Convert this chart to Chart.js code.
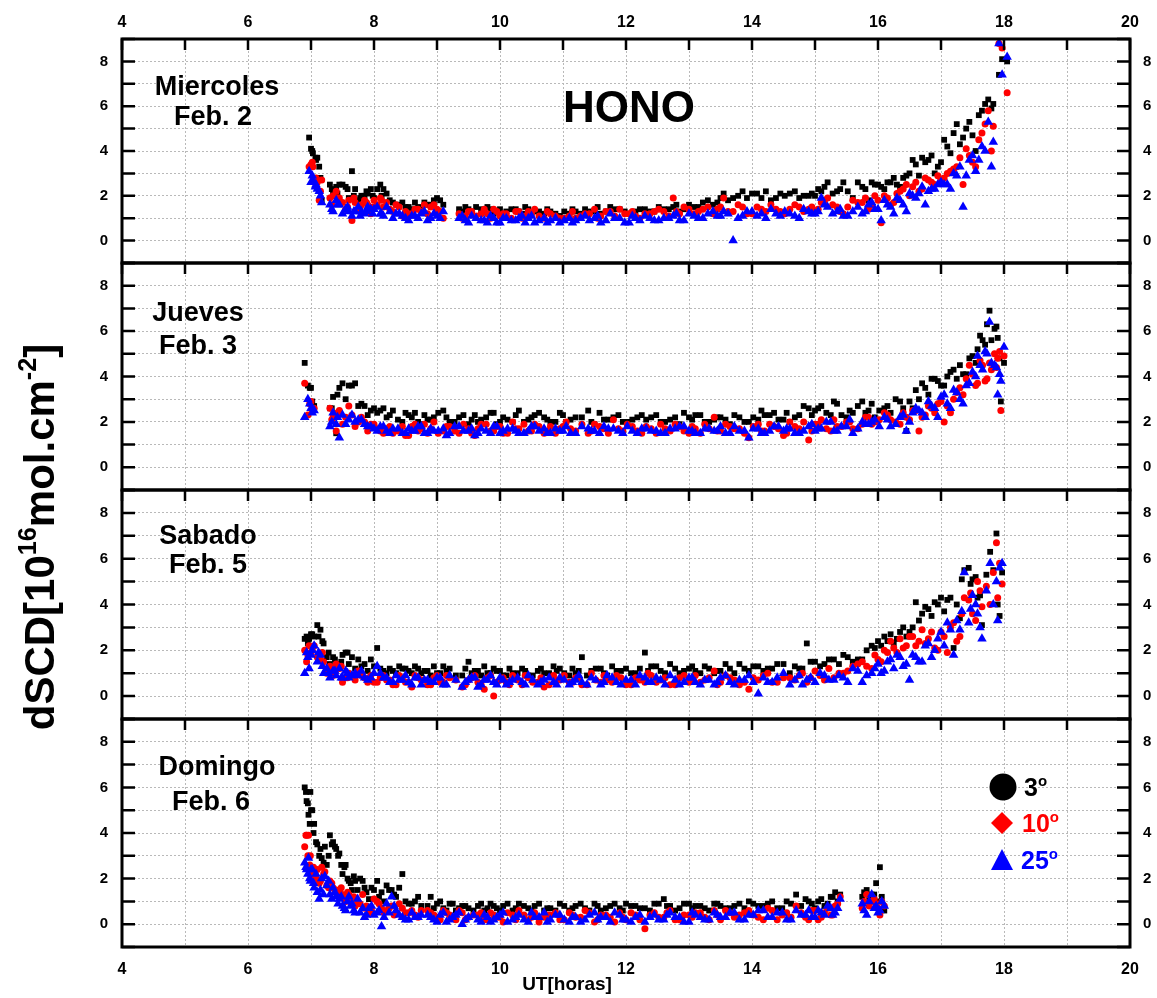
<!DOCTYPE html>
<html>
<head>
<meta charset="utf-8">
<script src="https://cdn.jsdelivr.net/npm/chart.js@4.4.1/dist/chart.umd.min.js"></script>
<style>
  body { margin: 0; background: #fff; }
  #page { position: relative; width: 1157px; height: 998px; overflow: hidden; font-family: "Liberation Sans", Arial, sans-serif; }
  #page canvas { position: absolute; left: 0; }
  .txt { position: absolute; font-weight: bold; white-space: nowrap; color: #000; z-index: 5; }
  .txt sup { font-size: 60%; vertical-align: 0.7em; line-height: 0; }
</style>
</head>
<body>
<div id="page">
  <canvas id="c1"></canvas>
  <canvas id="c2"></canvas>
  <canvas id="c3"></canvas>
  <canvas id="c4"></canvas>

  <div class="txt" style="left:-260px;top:512px;width:600px;height:50px;line-height:50px;text-align:center;font-size:42px;transform:rotate(-90deg);">dSCD[10<sup>16</sup>mol.cm<sup>-2</sup>]</div>
  <div class="txt" style="left:467px;top:974px;width:200px;text-align:center;font-size:19px;line-height:20px;">UT[horas]</div>
  <div class="txt" style="left:529px;top:85px;width:200px;text-align:center;font-size:44px;line-height:44px;">HONO</div>

  <div class="txt" style="left:117px;top:73px;width:200px;text-align:center;font-size:27px;line-height:27px;">Miercoles</div>
  <div class="txt" style="left:113px;top:103px;width:200px;text-align:center;font-size:27px;line-height:27px;">Feb. 2</div>
  <div class="txt" style="left:98px;top:299px;width:200px;text-align:center;font-size:27px;line-height:27px;">Jueves</div>
  <div class="txt" style="left:98px;top:332px;width:200px;text-align:center;font-size:27px;line-height:27px;">Feb. 3</div>
  <div class="txt" style="left:108px;top:522px;width:200px;text-align:center;font-size:27px;line-height:27px;">Sabado</div>
  <div class="txt" style="left:108px;top:551px;width:200px;text-align:center;font-size:27px;line-height:27px;">Feb. 5</div>
  <div class="txt" style="left:117px;top:753px;width:200px;text-align:center;font-size:27px;line-height:27px;">Domingo</div>
  <div class="txt" style="left:111px;top:788px;width:200px;text-align:center;font-size:27px;line-height:27px;">Feb. 6</div>

  <div class="txt" style="left:1024px;top:775px;font-size:25px;line-height:25px;">3<sup>o</sup></div>
  <div class="txt" style="left:1022px;top:811px;font-size:25px;line-height:25px;color:#ff0000;">10<sup>o</sup></div>
  <div class="txt" style="left:1021px;top:848px;font-size:25px;line-height:25px;color:#0000ff;">25<sup>o</sup></div>
</div>

<script>
// Miercoles Feb. 2 (first scan)
const feb2Time = [
  6.97, 7.0, 7.03, 7.07, 7.1, 7.13, 7.17, 7.3, 7.35, 7.4,
  7.45, 7.55, 7.6, 7.65, 7.7, 7.75, 7.8, 7.85, 7.9, 7.95,
  8.0, 8.1, 8.15, 8.2, 8.25, 8.35, 8.45, 8.5, 8.6, 8.7,
  8.8, 8.85, 8.95, 9.05, 9.1, 9.35, 9.45, 9.55, 9.7, 9.8,
  9.9, 10.0, 10.1, 10.25, 10.35, 10.45, 10.55, 10.7, 10.8, 10.95,
  11.1, 11.2, 11.35, 11.5, 11.6, 11.75, 11.9, 12.05, 12.15, 12.3,
  12.45, 12.6, 12.75, 12.85, 13.0, 13.15, 13.3, 13.45, 13.55, 13.7,
  13.85, 14.0, 14.15, 14.3, 14.45, 14.6, 14.75, 14.9, 15.0, 15.1,
  15.2, 15.35, 15.45, 15.6, 15.75, 15.85, 15.95, 16.05, 16.15, 16.25,
  16.35, 16.45, 16.55, 16.65, 16.75, 16.85, 16.95, 17.05, 17.15, 17.25,
  17.35, 17.45, 17.55, 17.65, 17.75, 17.83, 17.92, 17.97, 18.05
];
const feb2Deg3 = [
  4.6, 4.1, 3.9, 3.7, 3.7, 3.3, 1.8, 2.5, 2.2, 2.4,
  2.5, 2.4, 1.9, 3.1, 2.3, 1.8, 2.0, 2.0, 2.1, 2.3,
  1.9, 2.5, 2.3, 2.1, 1.8, 1.6, 1.7, 1.5, 1.4, 1.5,
  1.7, 1.6, 1.8, 1.8, 1.6, 1.4, 1.5, 1.3, 1.4, 1.5,
  1.2, 1.4, 1.3, 1.4, 1.2, 1.4, 1.3, 1.2, 1.3, 1.1,
  1.2, 1.3, 1.4, 1.3, 1.2, 1.5, 1.4, 1.2, 1.3, 1.4,
  1.3, 1.4, 1.5, 1.3, 1.6, 1.5, 1.8, 1.7, 2.1, 1.9,
  2.2, 2.1, 1.9, 1.8, 2.1, 2.1, 1.9, 2.0, 2.0, 2.2,
  2.6, 2.2, 2.6, 1.9, 2.4, 1.8, 2.5, 2.4, 2.6, 2.8,
  2.4, 2.9, 3.6, 2.9, 3.5, 3.8, 3.3, 4.5, 3.9, 5.2,
  4.6, 5.3, 4.0, 5.8, 6.3, 6.1, 7.4, 8.1, 8.0
];
const feb2Deg10 = [
  3.3, 3.4, 3.3, 2.7, 2.6, 1.8, 2.7, 1.9, 2.0, 2.2,
  1.9, 1.4, 1.8, 0.9, 1.7, 1.4, 1.6, 1.8, 1.6, 1.2,
  1.8, 1.9, 1.5, 1.7, 1.4, 1.6, 1.1, 1.3, 1.2, 1.4,
  1.6, 1.2, 1.6, 1.3, 1.0, 1.2, 1.1, 1.3, 1.2, 1.2,
  1.4, 1.1, 1.2, 1.3, 1.0, 1.3, 1.4, 1.0, 1.2, 1.0,
  1.1, 1.0, 1.2, 1.4, 1.1, 1.3, 1.4, 1.2, 1.1, 1.2,
  1.3, 1.3, 1.9, 1.2, 1.4, 1.3, 1.5, 1.4, 1.9, 1.3,
  1.5, 1.2, 1.4, 1.6, 1.3, 1.4, 1.5, 1.4, 1.3, 1.7,
  1.9, 1.5, 1.2, 1.8, 1.7, 1.4, 2.0, 0.8, 1.9, 1.7,
  2.2, 2.5, 2.4, 2.2, 2.8, 2.6, 2.9, 2.8, 3.1, 3.3,
  2.5, 3.8, 3.3, 4.8, 5.8, 5.1, 8.8, 8.6, 6.6
];
const feb2Deg25 = [
  3.1, 2.6, 2.7, 2.4, 2.3, 2.2, 1.7, 1.6, 1.3, 1.8,
  1.6, 1.4, 1.3, 1.1, 1.3, 1.5, 1.3, 1.2, 1.5, 1.4,
  1.4, 1.2, 1.1, 1.5, 1.3, 1.2, 1.1, 1.0, 1.1, 1.0,
  1.3, 0.9, 1.2, 1.0, 1.3, 1.0, 0.9, 1.1, 0.9, 0.8,
  1.0, 0.8, 1.0, 0.9, 1.1, 1.0, 0.8, 1.0, 0.9, 0.8,
  1.0, 0.9, 1.1, 1.0, 0.8, 1.2, 1.0, 0.8, 1.0, 1.1,
  0.9, 1.0, 1.1, 0.9, 1.2, 1.0, 1.2, 1.1, 1.3, 0.0,
  1.1, 1.3, 1.2, 1.4, 1.1, 1.2, 1.0, 1.3, 1.2, 1.9,
  1.5, 1.3, 1.1, 1.3, 1.2, 1.6, 1.4, 0.9, 1.6, 1.2,
  1.8, 1.3, 2.0, 2.1, 1.6, 2.3, 2.5, 2.5, 2.3, 2.9,
  1.5, 3.6, 3.1, 4.2, 5.3, 4.4, 8.8, 7.4, 8.2
];
// Miercoles Feb. 2 (second scan)
const feb2TimeB = [
  7.02, 7.08, 7.15, 7.33, 7.42, 7.5, 7.58, 7.68, 7.78, 7.88,
  7.98, 8.05, 8.12, 8.3, 8.4, 8.55, 8.65, 8.75, 8.9, 9.0,
  9.4, 9.5, 9.62, 9.75, 9.85, 9.95, 10.05, 10.18, 10.3, 10.4,
  10.5, 10.62, 10.75, 10.88, 11.02, 11.15, 11.28, 11.42, 11.55, 11.68,
  11.82, 11.98, 12.1, 12.22, 12.38, 12.52, 12.68, 12.8, 12.92, 13.08,
  13.22, 13.38, 13.5, 13.62, 13.78, 13.92, 14.08, 14.22, 14.38, 14.52,
  14.68, 14.82, 14.95, 15.05, 15.15, 15.28, 15.4, 15.52, 15.68, 15.8,
  15.9, 16.0, 16.1, 16.2, 16.3, 16.4, 16.5, 16.6, 16.7, 16.8,
  16.9, 17.0, 17.1, 17.2, 17.3, 17.4, 17.5, 17.6, 17.7, 17.8
];
const feb2Deg3B = [
  4.0, 3.6, 2.8, 2.3, 2.1, 2.5, 2.3, 2.0, 1.9, 2.2,
  2.0, 2.3, 2.0, 1.7, 1.6, 1.5, 1.7, 1.4, 1.6, 1.9,
  1.3, 1.4, 1.5, 1.3, 1.4, 1.3, 1.2, 1.4, 1.3, 1.5,
  1.2, 1.3, 1.4, 1.2, 1.3, 1.4, 1.2, 1.3, 1.5, 1.3,
  1.4, 1.3, 1.2, 1.4, 1.3, 1.5, 1.4, 1.6, 1.4, 1.5,
  1.7, 1.6, 1.9, 1.8, 2.0, 1.9, 2.1, 2.2, 1.9, 2.0,
  2.2, 2.0, 2.1, 2.3, 2.4, 2.1, 2.3, 2.2, 2.6, 2.3,
  2.6, 2.5, 2.3, 2.6, 2.5, 2.8, 3.0, 3.4, 3.7, 3.6,
  3.0, 3.5, 4.2, 4.8, 4.3, 5.0, 4.7, 5.6, 6.1, 5.9
];
const feb2Deg10B = [
  3.5, 2.8, 2.2, 1.6, 1.9, 1.7, 1.5, 1.9, 1.5, 1.7,
  1.5, 1.6, 1.8, 1.3, 1.5, 1.2, 1.4, 1.3, 1.5, 1.4,
  1.0, 1.3, 1.1, 1.4, 1.0, 1.3, 1.2, 1.0, 1.3, 1.1,
  1.2, 1.1, 1.3, 1.1, 1.0, 1.3, 1.1, 1.2, 1.0, 1.3,
  1.1, 1.2, 1.3, 1.0, 1.2, 1.4, 1.1, 1.3, 1.5, 1.2,
  1.4, 1.2, 1.5, 1.3, 1.6, 1.2, 1.5, 1.3, 1.4, 1.2,
  1.6, 1.3, 1.5, 1.4, 1.8, 1.6, 1.3, 1.5, 1.7, 1.9,
  1.6, 1.8, 2.0, 1.6, 2.1, 2.3, 2.0, 2.6, 2.3, 2.7,
  2.5, 2.7, 3.0, 3.2, 3.7, 4.1, 3.5, 4.5, 5.2, 4.0
];
const feb2Deg25B = [
  2.9, 2.5, 2.0, 1.4, 1.6, 1.2, 1.5, 1.3, 1.1, 1.3,
  1.2, 1.5, 1.2, 1.0, 1.2, 0.9, 1.1, 1.2, 1.0, 1.1,
  1.1, 0.8, 1.0, 0.9, 1.1, 0.8, 1.0, 0.9, 1.0, 0.8,
  1.1, 0.9, 0.8, 1.0, 0.9, 0.8, 1.0, 0.9, 1.1, 0.9,
  1.0, 0.8, 1.1, 0.9, 1.0, 0.9, 1.0, 1.2, 0.9, 1.1,
  1.0, 1.3, 1.1, 1.2, 1.0, 1.3, 1.1, 1.0, 1.2, 1.3,
  1.1, 1.4, 1.2, 1.3, 1.6, 1.2, 1.4, 1.1, 1.5, 1.3,
  1.7, 1.4, 1.8, 1.5, 1.9, 1.6, 2.1, 1.9, 2.4, 2.2,
  2.3, 2.6, 2.5, 3.0, 3.3, 2.9, 3.8, 3.6, 4.0, 3.3
];

// Jueves Feb. 3 (first scan)
const feb3Time = [
  6.9, 6.95, 7.0, 7.05, 7.3, 7.35, 7.4, 7.45, 7.5, 7.6,
  7.65, 7.7, 7.8, 7.85, 7.9, 8.0, 8.1, 8.2, 8.3, 8.45,
  8.55, 8.65, 8.75, 8.85, 8.95, 9.1, 9.2, 9.35, 9.5, 9.6,
  9.7, 9.85, 9.95, 10.05, 10.2, 10.3, 10.45, 10.55, 10.7, 10.8,
  10.95, 11.05, 11.2, 11.4, 11.5, 11.65, 11.8, 11.95, 12.1, 12.25,
  12.4, 12.55, 12.7, 12.85, 13.0, 13.1, 13.25, 13.4, 13.5, 13.65,
  13.8, 13.95, 14.1, 14.2, 14.35, 14.5, 14.6, 14.75, 14.9, 15.0,
  15.1, 15.25, 15.35, 15.5, 15.6, 15.75, 15.85, 15.95, 16.1, 16.2,
  16.35, 16.45, 16.55, 16.65, 16.75, 16.85, 16.95, 17.05, 17.15, 17.25,
  17.35, 17.45, 17.55, 17.62, 17.7, 17.77, 17.85, 17.9, 17.95, 18.0
];
const feb3Deg3 = [
  4.6, 3.6, 3.5, 2.7, 2.6, 3.1, 1.5, 3.5, 3.7, 3.6,
  3.6, 3.7, 2.8, 2.7, 2.3, 2.6, 2.5, 2.2, 2.5, 2.0,
  2.3, 2.4, 1.9, 2.1, 2.2, 2.5, 2.0, 2.2, 1.9, 2.3,
  2.1, 2.4, 1.9, 2.2, 2.0, 2.5, 2.1, 2.3, 2.2, 2.0,
  2.4, 2.0, 2.2, 2.5, 1.9, 2.1, 2.2, 2.0, 2.1, 2.3,
  2.2, 2.0, 2.1, 1.9, 2.2, 2.3, 2.0, 2.1, 2.2, 1.9,
  2.2, 2.0, 2.1, 2.3, 2.4, 2.1, 2.0, 2.3, 2.6, 2.5,
  2.7, 2.3, 2.8, 2.2, 2.4, 2.9, 2.5, 2.2, 2.6, 2.4,
  2.9, 1.6, 2.6, 3.0, 3.5, 3.9, 3.8, 3.6, 4.2, 3.9,
  4.1, 4.8, 4.6, 5.8, 5.4, 6.9, 6.1, 5.7, 2.9, 4.6
];
const feb3Deg10 = [
  3.7, 2.3, 2.9, 2.6, 2.6, 2.2, 1.6, 2.5, 1.9, 2.7,
  2.3, 1.8, 2.2, 2.0, 1.6, 1.9, 1.6, 1.7, 1.5, 1.8,
  1.4, 1.9, 1.7, 1.5, 2.0, 1.6, 1.8, 1.5, 1.7, 1.4,
  1.9, 1.6, 1.8, 1.5, 2.0, 1.7, 1.6, 1.9, 1.5, 1.8,
  1.7, 2.0, 1.6, 1.5, 1.9, 1.7, 2.1, 1.6, 1.8, 1.5,
  1.7, 1.9, 1.6, 1.8, 1.5, 1.7, 1.9, 2.2, 1.6, 1.8,
  1.7, 1.3, 1.9, 1.6, 1.8, 1.4, 2.0, 1.7, 1.2, 1.9,
  2.1, 1.6, 1.8, 2.0, 1.7, 1.9, 2.2, 2.0, 2.4, 2.1,
  1.9, 2.2, 2.5, 1.6, 2.3, 2.6, 2.8, 2.0, 2.4, 3.3,
  3.2, 4.5, 3.6, 4.7, 3.8, 4.6, 5.0, 4.8, 2.5, 4.9
];
const feb3Deg25 = [
  2.2, 3.0, 2.6, 2.5, 1.8, 2.4, 1.9, 1.3, 2.3, 2.1,
  2.3, 2.0, 2.1, 1.9, 1.8, 1.7, 1.8, 1.6, 1.7, 1.5,
  1.7, 1.6, 1.8, 1.5, 1.6, 1.7, 1.5, 1.8, 1.6, 1.4,
  1.7, 1.5, 1.8, 1.6, 1.7, 1.5, 1.6, 1.8, 1.7, 1.5,
  1.6, 1.8, 1.5, 1.7, 1.6, 1.8, 1.7, 1.5, 1.6, 1.7,
  1.6, 1.5, 1.7, 1.8, 1.6, 1.5, 1.7, 1.6, 1.8, 1.5,
  1.6, 1.3, 1.7, 1.5, 1.8, 1.6, 1.7, 1.5, 1.8, 1.6,
  1.7, 2.0, 1.6, 1.8, 1.5, 2.0, 1.9, 2.1, 2.2, 1.8,
  2.2, 1.6, 2.4, 2.5, 2.2, 2.7, 2.2, 3.2, 2.6, 3.3,
  2.8, 3.7, 4.0, 4.5, 5.1, 6.4, 4.5, 3.2, 3.8, 5.3
];
// Jueves Feb. 3 (second scan)
const feb3TimeB = [
  6.98, 7.02, 7.33, 7.42, 7.55, 7.75, 7.95, 8.05, 8.15, 8.25,
  8.38, 8.5, 8.6, 8.7, 8.8, 8.9, 9.02, 9.15, 9.28, 9.42,
  9.55, 9.65, 9.78, 9.9, 10.0, 10.12, 10.25, 10.38, 10.5, 10.62,
  10.75, 10.88, 11.0, 11.12, 11.3, 11.45, 11.58, 11.72, 11.88, 12.02,
  12.18, 12.32, 12.48, 12.62, 12.78, 12.92, 13.05, 13.18, 13.32, 13.45,
  13.58, 13.72, 13.88, 14.02, 14.15, 14.28, 14.42, 14.55, 14.68, 14.82,
  14.95, 15.05, 15.18, 15.3, 15.42, 15.55, 15.68, 15.8, 15.9, 16.02,
  16.15, 16.28, 16.4, 16.5, 16.6, 16.7, 16.8, 16.9, 17.0, 17.1,
  17.2, 17.3, 17.4, 17.5, 17.58, 17.66, 17.73, 17.8, 17.88, 17.93
];
const feb3Deg3B = [
  3.5, 2.9, 2.6, 3.2, 3.0, 2.7, 2.5, 2.4, 2.6, 2.3,
  2.1, 2.4, 2.2, 2.0, 2.3, 2.1, 2.4, 2.2, 2.0, 2.3,
  2.1, 2.0, 2.2, 2.4, 2.0, 2.1, 2.3, 2.0, 2.2, 2.4,
  2.1, 2.0, 2.3, 2.1, 2.2, 2.0, 2.4, 2.1, 2.3, 2.0,
  2.2, 2.1, 2.3, 2.0, 2.2, 2.4, 2.1, 2.3, 2.0, 2.2,
  2.1, 2.3, 2.0, 2.2, 2.5, 2.3, 2.1, 2.4, 2.2, 2.7,
  2.3, 2.6, 2.4, 2.9, 2.3, 2.5, 2.7, 2.4, 2.8, 2.5,
  2.7, 3.0, 2.6, 2.9, 3.4, 3.7, 3.2, 3.9, 3.6, 4.0,
  4.3, 4.5, 4.1, 4.9, 5.2, 5.6, 6.3, 5.6, 6.2, 4.8
];
const feb3Deg10B = [
  2.8, 2.5, 2.1, 2.4, 2.2, 2.0, 1.9, 1.7, 1.5, 1.8,
  1.6, 1.4, 1.8, 1.6, 1.9, 1.7, 1.5, 1.8, 1.6, 1.9,
  1.5, 1.7, 1.9, 1.6, 1.8, 1.5, 1.7, 1.9, 1.6, 1.8,
  1.6, 1.5, 1.8, 1.7, 1.9, 1.6, 1.8, 1.5, 1.7, 1.9,
  1.6, 1.8, 1.5, 1.7, 1.9, 1.6, 1.8, 1.5, 1.7, 1.6,
  1.9, 1.7, 1.5, 1.8, 1.6, 1.9, 1.7, 1.5, 1.8, 2.0,
  1.6, 1.9, 1.7, 2.1, 1.8, 2.0, 1.7, 2.2, 1.9, 2.1,
  2.3, 2.0, 2.4, 2.1, 2.5, 2.2, 2.7, 2.4, 2.9, 2.7,
  3.0, 3.5, 3.9, 4.1, 3.7, 4.5, 3.9, 4.3, 4.4, 5.1
];
const feb3Deg25B = [
  2.8, 2.4, 2.0, 2.2, 1.9, 2.1, 1.8, 1.6, 1.8, 1.5,
  1.7, 1.5, 1.6, 1.8, 1.5, 1.7, 1.6, 1.4, 1.8, 1.6,
  1.7, 1.5, 1.6, 1.8, 1.5, 1.7, 1.6, 1.5, 1.8, 1.6,
  1.5, 1.7, 1.6, 1.5, 1.8, 1.6, 1.5, 1.7, 1.6, 1.8,
  1.5, 1.7, 1.6, 1.5, 1.7, 1.8, 1.6, 1.5, 1.7, 1.6,
  1.5, 1.8, 1.6, 1.7, 1.5, 1.6, 1.8, 1.7, 1.5, 1.6,
  1.9, 1.7, 2.0, 1.6, 1.8, 2.1, 1.7, 1.9, 2.0, 1.8,
  2.1, 1.9, 2.3, 2.0, 2.6, 2.4, 2.9, 2.6, 3.1, 2.8,
  3.4, 3.0, 3.6, 4.2, 4.9, 4.3, 5.0, 4.6, 4.4, 4.1
];

// Sabado Feb. 5 (first scan)
const feb5Time = [
  6.9, 6.93, 6.97, 7.0, 7.05, 7.1, 7.15, 7.2, 7.25, 7.3,
  7.35, 7.4, 7.45, 7.5, 7.55, 7.6, 7.7, 7.75, 7.8, 7.9,
  7.95, 8.05, 8.1, 8.2, 8.3, 8.4, 8.5, 8.6, 8.7, 8.8,
  8.9, 9.0, 9.1, 9.2, 9.4, 9.5, 9.6, 9.7, 9.8, 9.9,
  10.0, 10.1, 10.2, 10.35, 10.45, 10.6, 10.7, 10.85, 10.95, 11.1,
  11.2, 11.3, 11.45, 11.6, 11.7, 11.85, 12.0, 12.15, 12.3, 12.4,
  12.55, 12.7, 12.85, 13.0, 13.1, 13.25, 13.4, 13.5, 13.65, 13.8,
  13.95, 14.1, 14.25, 14.4, 14.6, 14.75, 14.87, 15.0, 15.15, 15.3,
  15.45, 15.6, 15.75, 15.9, 16.0, 16.1, 16.2, 16.3, 16.4, 16.5,
  16.6, 16.7, 16.8, 16.9, 17.0, 17.1, 17.2, 17.3, 17.37, 17.44,
  17.5, 17.58, 17.65, 17.72, 17.78, 17.83, 17.88, 17.9, 17.93, 17.97
];
const feb5Deg3 = [
  2.5, 2.6, 2.5, 2.7, 2.6, 3.1, 2.9, 2.3, 1.7, 1.4,
  1.7, 1.4, 1.3, 1.8, 1.9, 1.4, 1.2, 1.6, 1.3, 1.1,
  1.6, 2.1, 1.2, 1.0, 1.1, 1.3, 1.2, 1.0, 1.2, 1.1,
  0.9, 1.0, 1.3, 1.2, 0.9, 1.5, 1.1, 0.9, 1.0, 1.2,
  1.1, 0.9, 1.0, 1.2, 0.9, 1.1, 1.0, 1.3, 1.2, 0.9,
  1.0, 1.7, 1.1, 1.2, 0.9, 1.1, 1.2, 1.0, 1.9, 1.3,
  1.1, 1.4, 1.0, 1.2, 1.1, 1.3, 1.0, 1.1, 1.2, 1.4,
  1.1, 1.3, 1.2, 1.4, 1.0, 1.2, 2.3, 1.5, 1.4, 1.6,
  1.8, 1.5, 1.6, 2.2, 2.4, 2.6, 2.7, 2.5, 3.0, 2.8,
  4.1, 3.6, 3.8, 4.1, 4.3, 4.2, 2.1, 3.4, 5.5, 5.6,
  5.1, 4.3, 3.1, 5.3, 6.3, 5.5, 7.1, 4.0, 3.5, 5.4
];
const feb5Deg10 = [
  2.0, 1.5, 2.2, 1.9, 2.2, 1.7, 1.6, 1.5, 1.0, 1.3,
  0.9, 1.4, 1.2, 0.6, 0.8, 1.0, 0.7, 1.1, 0.9, 0.6,
  0.9, 0.6, 0.8, 0.7, 0.5, 0.9, 0.6, 0.4, 0.8, 0.7,
  0.5, 0.9, 0.6, 0.8, 0.4, 0.7, 0.9, 0.5, 0.8, 0.0,
  0.7, 0.6, 0.9, 0.5, 0.8, 0.6, 0.4, 0.9, 0.7, 0.6,
  0.8, 0.5, 1.0, 0.6, 0.7, 0.9, 0.5, 0.8, 0.6, 0.9,
  0.7, 0.5, 0.8, 0.6, 0.9, 0.7, 1.1, 0.6, 0.8, 0.5,
  0.3, 0.7, 1.0, 0.6, 0.8, 0.9, 0.6, 1.1, 0.7, 0.8,
  1.0, 1.3, 1.5, 1.2, 1.6, 2.0, 2.4, 1.9, 2.1, 2.6,
  2.2, 2.9, 2.5, 2.1, 2.8, 1.9, 3.2, 2.6, 4.3, 4.2,
  3.6, 5.0, 3.9, 4.8, 4.0, 5.4, 6.7, 4.3, 5.8, 4.9
];
const feb5Deg25 = [
  1.0, 1.9, 1.2, 1.8, 2.2, 1.5, 1.8, 1.0, 1.2, 0.8,
  1.1, 0.9, 1.2, 0.8, 1.1, 0.8, 1.0, 0.9, 1.1, 0.7,
  0.8, 1.3, 1.0, 0.8, 0.6, 0.7, 0.9, 0.5, 0.8, 0.7,
  0.6, 0.8, 0.5, 0.9, 0.4, 0.7, 0.8, 0.5, 0.7, 0.6,
  0.8, 0.5, 0.7, 0.6, 0.9, 0.5, 0.7, 0.6, 0.8, 0.5,
  0.7, 0.6, 0.8, 0.5, 0.9, 0.6, 0.7, 0.5, 0.8, 0.6,
  0.7, 0.9, 0.5, 0.8, 0.6, 0.7, 0.5, 0.8, 0.6, 0.7,
  0.9, 0.1, 0.6, 0.8, 0.5, 0.9, 0.7, 0.6, 0.9, 0.7,
  0.8, 1.2, 0.6, 1.0, 1.4, 1.1, 1.6, 1.8, 1.3, 0.7,
  1.7, 1.5, 2.3, 2.0, 2.8, 3.2, 1.8, 2.9, 5.4, 3.2,
  4.4, 3.6, 2.5, 4.6, 5.8, 4.0, 5.0, 3.3, 5.6, 5.8
];
// Sabado Feb. 5 (second scan)
const feb5TimeB = [
  6.95, 7.02, 7.12, 7.18, 7.28, 7.38, 7.48, 7.58, 7.65, 7.85,
  8.0, 8.15, 8.25, 8.35, 8.45, 8.55, 8.65, 8.75, 8.85, 8.95,
  9.05, 9.15, 9.3, 9.45, 9.55, 9.65, 9.75, 9.85, 9.95, 10.05,
  10.15, 10.28, 10.4, 10.52, 10.65, 10.78, 10.9, 11.02, 11.15, 11.25,
  11.38, 11.52, 11.65, 11.78, 11.92, 12.08, 12.22, 12.35, 12.48, 12.62,
  12.78, 12.92, 13.05, 13.18, 13.32, 13.45, 13.58, 13.72, 13.88, 14.02,
  14.18, 14.32, 14.5, 14.68, 14.8, 14.93, 15.08, 15.22, 15.38, 15.52,
  15.68, 15.82, 15.95, 16.05, 16.15, 16.25, 16.35, 16.45, 16.55, 16.65,
  16.75, 16.85, 16.95, 17.05, 17.15, 17.25, 17.33, 17.47, 17.55, 17.62
];
const feb5Deg3B = [
  2.3, 2.7, 2.6, 2.4, 1.9, 1.6, 1.5, 1.9, 1.7, 1.4,
  1.3, 1.1, 1.2, 1.0, 1.2, 1.1, 1.3, 1.0, 1.1, 1.3,
  1.0, 1.1, 0.9, 1.2, 1.0, 1.1, 1.3, 1.0, 1.1, 0.9,
  1.2, 1.0, 1.1, 0.9, 1.2, 1.0, 1.1, 1.0, 1.2, 1.1,
  0.9, 1.2, 1.0, 1.3, 1.1, 1.0, 1.2, 1.1, 1.3, 1.0,
  1.2, 1.1, 1.3, 1.0, 1.2, 1.1, 1.4, 1.0, 1.2, 1.3,
  1.1, 1.2, 1.4, 1.3, 1.2, 1.5, 1.3, 1.6, 1.4, 1.7,
  1.6, 2.0, 2.1, 2.2, 2.4, 2.3, 2.8, 2.6, 3.0, 3.3,
  3.9, 3.5, 4.0, 3.7, 4.3, 4.0, 5.1, 4.9, 5.2, 4.4
];
const feb5Deg10B = [
  1.8, 2.0, 1.6, 1.9, 1.2, 1.0, 1.3, 0.8, 0.9, 0.8,
  0.6, 0.9, 0.7, 0.5, 0.8, 0.6, 0.9, 0.7, 0.5, 0.8,
  0.6, 0.9, 0.7, 0.5, 0.8, 0.6, 0.3, 0.9, 0.6, 0.8,
  0.5, 0.7, 0.9, 0.6, 0.8, 0.5, 0.7, 0.9, 0.6, 0.8,
  0.5, 0.7, 0.9, 0.6, 0.8, 0.5, 0.7, 1.0, 0.6, 0.8,
  0.5, 0.9, 0.7, 0.6, 0.8, 0.5, 0.9, 0.7, 0.6, 0.8,
  0.9, 0.6, 0.8, 0.7, 1.0, 0.8, 0.9, 1.2, 1.0, 1.1,
  1.4, 1.3, 1.8, 1.5, 1.9, 2.1, 2.5, 2.2, 2.6, 2.4,
  2.3, 2.8, 2.0, 2.6, 3.0, 2.4, 3.6, 4.5, 3.3, 4.6
];
const feb5Deg25B = [
  1.7, 2.0, 1.9, 1.3, 1.0, 1.1, 0.8, 1.0, 0.9, 0.8,
  1.0, 0.8, 0.6, 0.9, 0.7, 0.6, 0.8, 0.5, 0.7, 0.6,
  0.8, 0.5, 0.7, 0.6, 0.8, 0.4, 0.7, 0.9, 0.5, 0.7,
  0.6, 0.8, 0.5, 0.7, 0.6, 0.8, 0.5, 0.7, 0.6, 0.9,
  0.5, 0.7, 0.6, 0.8, 0.5, 0.7, 0.9, 0.6, 0.8, 0.5,
  0.7, 0.6, 0.8, 0.5, 0.7, 0.6, 0.9, 0.5, 0.7, 0.6,
  0.8, 0.6, 1.0, 0.7, 0.5, 0.8, 1.0, 0.7, 0.9, 0.6,
  1.1, 0.9, 1.2, 1.0, 1.5, 1.2, 1.7, 1.4, 1.8, 1.5,
  2.2, 1.7, 2.5, 2.2, 2.9, 3.3, 3.7, 3.8, 4.0, 3.0
];

// Domingo Feb. 6 (first scan)
const feb6Time = [
  6.9, 6.93, 6.96, 6.99, 7.02, 7.05, 7.1, 7.13, 7.17, 7.22,
  7.25, 7.3, 7.35, 7.4, 7.45, 7.5, 7.55, 7.6, 7.65, 7.7,
  7.78, 7.85, 7.92, 8.0, 8.05, 8.12, 8.2, 8.28, 8.35, 8.45,
  8.55, 8.65, 8.75, 8.9, 9.0, 9.1, 9.2, 9.3, 9.4, 9.5,
  9.65, 9.75, 9.85, 9.95, 10.05, 10.2, 10.3, 10.45, 10.55, 10.7,
  10.8, 10.95, 11.1, 11.2, 11.35, 11.5, 11.6, 11.75, 11.9, 12.0,
  12.15, 12.3, 12.45, 12.6, 12.7, 12.85, 13.0, 13.1, 13.25, 13.4,
  13.5, 13.65, 13.8, 13.95, 14.1, 14.25, 14.4, 14.55, 14.7, 14.85,
  14.95, 15.05, 15.15, 15.25, 15.32, 15.4, 15.75, 15.82, 15.9, 15.97,
  16.03, 16.06, 16.1
];
const feb6Deg3 = [
  6.0, 5.4, 4.8, 5.8, 5.0, 4.4, 3.5, 3.0, 2.9, 3.4,
  2.6, 3.9, 3.6, 3.3, 3.1, 2.2, 2.6, 1.9, 1.5, 1.9,
  2.0, 1.6, 1.1, 1.5, 1.9, 1.4, 1.7, 1.5, 1.2, 2.2,
  0.9, 1.0, 0.8, 1.2, 0.9, 0.7, 0.9, 0.6, 0.8, 0.7,
  0.8, 0.6, 0.9, 0.7, 0.8, 0.6, 0.9, 0.7, 0.8, 0.6,
  0.7, 0.9, 0.6, 0.8, 0.7, 0.9, 0.6, 0.8, 0.7, 0.9,
  0.8, 0.7, 0.9, 1.1, 0.8, 0.7, 0.9, 0.8, 0.7, 0.9,
  0.8, 0.7, 0.9, 1.0, 0.8, 0.9, 0.7, 1.0, 1.3, 1.1,
  0.9, 1.0, 0.8, 1.2, 1.4, 1.3, 1.2, 1.5, 1.3, 1.8,
  2.5, 1.2, 0.6
];
const feb6Deg10 = [
  3.4, 3.9, 3.9, 3.0, 2.2, 2.2, 2.4, 1.8, 2.5, 2.3,
  1.7, 1.9, 1.6, 1.5, 1.4, 1.3, 1.0, 1.3, 0.9, 0.8,
  0.9, 0.7, 0.5, 1.1, 1.0, 0.7, 0.6, 0.8, 0.5, 0.7,
  0.5, 0.4, 0.6, 0.5, 0.3, 0.6, 0.4, 0.2, 0.5, 0.3,
  0.4, 0.2, 0.5, 0.3, 0.1, 0.4, 0.6, 0.2, 0.5, 0.3,
  0.4, 0.2, 0.5, 0.3, 0.6, 0.1, 0.4, 0.3, 0.5, 0.2,
  0.4, -0.2, 0.5, 0.3, 0.6, 0.2, 0.4, 0.5, 0.3, 0.6,
  0.2, 0.5, 0.4, 0.6, 0.3, 0.7, 0.2, 0.5, 0.8, 0.3,
  0.6, 0.2, 0.5, 0.4, 0.8, 1.2, 0.7, 1.3, 1.0, 0.9,
  0.4, 1.0, 0.8
];
const feb6Deg25 = [
  2.7, 2.4, 2.9, 1.9, 2.4, 1.6, 1.4, 1.1, 2.0, 2.1,
  1.7, 1.3, 1.6, 1.2, 1.1, 0.8, 0.6, 1.2, 0.9, 0.5,
  0.5, 0.3, 0.7, 0.4, 0.5, -0.1, 0.9, 1.2, 0.6, 0.3,
  0.2, 0.3, 0.4, 0.3, 0.1, 0.5, 0.2, 0.4, 0.0, 0.3,
  0.2, 0.4, 0.1, 0.3, 0.5, 0.2, 0.4, 0.1, 0.3, 0.5,
  0.2, 0.4, 0.1, 0.3, 0.2, 0.5, 0.3, 0.1, 0.4, 0.2,
  0.3, 0.1, 0.4, 0.2, 0.5, 0.3, 0.1, 0.4, 0.2, 0.5,
  0.3, 0.5, 0.2, 0.4, 0.6, 0.3, 0.5, 0.2, 0.6, 0.4,
  0.3, 0.6, 0.4, 0.7, 0.5, 1.1, 0.9, 0.4, 1.3, 0.8,
  0.6, 1.0, 0.8
];
// Domingo Feb. 6 (second scan)
const feb6TimeB = [
  6.92, 6.95, 6.98, 7.0, 7.04, 7.08, 7.15, 7.2, 7.28, 7.33,
  7.38, 7.43, 7.48, 7.53, 7.58, 7.63, 7.68, 7.74, 7.82, 7.88,
  7.96, 8.08, 8.16, 8.24, 8.32, 8.4, 8.5, 8.6, 8.7, 8.85,
  8.95, 9.05, 9.15, 9.25, 9.35, 9.45, 9.58, 9.7, 9.8, 9.9,
  10.0, 10.12, 10.25, 10.38, 10.5, 10.62, 10.75, 10.88, 11.02, 11.15,
  11.28, 11.42, 11.55, 11.68, 11.82, 11.95, 12.08, 12.22, 12.38, 12.52,
  12.65, 12.78, 12.92, 13.05, 13.18, 13.32, 13.45, 13.58, 13.72, 13.88,
  14.02, 14.18, 14.32, 14.48, 14.62, 14.78, 14.9, 15.0, 15.1, 15.2,
  15.28, 15.36, 15.78, 15.86, 15.94, 16.0
];
const feb6Deg3B = [
  5.8, 5.3, 4.4, 5.0, 4.0, 3.6, 3.3, 2.7, 3.0, 3.5,
  3.4, 3.0, 2.6, 2.5, 2.0, 1.8, 2.1, 1.5, 1.9, 1.4,
  1.6, 1.2, 1.0, 1.5, 1.3, 1.6, 1.0, 0.9, 1.2, 0.8,
  0.7, 1.0, 0.6, 0.9, 0.7, 0.8, 0.6, 0.9, 0.7, 0.8,
  0.6, 0.9, 0.7, 0.8, 0.6, 0.9, 0.7, 0.6, 0.8, 0.7,
  0.9, 0.6, 0.8, 0.7, 0.9, 0.6, 0.8, 0.7, 0.6, 0.9,
  0.8, 0.6, 0.9, 0.7, 0.8, 0.6, 0.9, 0.7, 0.8, 0.7,
  0.9, 0.8, 1.0, 0.7, 0.9, 0.8, 1.0, 0.7, 1.1, 0.9,
  1.2, 1.0, 1.4, 1.1, 1.3, 1.0
];
const feb6Deg10B = [
  3.9, 3.0, 2.6, 2.1, 2.5, 2.0, 1.9, 2.2, 1.6, 1.8,
  1.5, 1.3, 1.6, 1.1, 1.4, 1.0, 1.2, 0.9, 1.3, 0.8,
  0.6, 0.9, 0.5, 0.7, 0.4, 0.9, 0.5, 0.6, 0.3, 0.6,
  0.4, 0.2, 0.5, 0.3, 0.6, 0.2, 0.4, 0.5, 0.2, 0.4,
  0.3, 0.5, 0.2, 0.4, 0.3, 0.1, 0.4, 0.5, 0.2, 0.4,
  0.3, 0.5, 0.2, 0.4, 0.1, 0.3, 0.5, 0.2, 0.4, 0.3,
  0.5, 0.2, 0.4, 0.3, 0.5, 0.2, 0.4, 0.6, 0.3, 0.5,
  0.4, 0.2, 0.6, 0.4, 0.3, 0.5, 0.2, 0.6, 0.3, 0.7,
  0.4, 0.9, 1.0, 0.8, 1.1, 0.7
];
const feb6Deg25B = [
  2.5, 2.2, 2.0, 2.4, 1.8, 2.2, 1.5, 1.3, 1.9, 1.1,
  1.4, 0.9, 1.2, 0.7, 1.0, 0.8, 0.6, 1.1, 0.7, 0.4,
  0.8, 0.6, 0.3, 0.5, 0.8, 0.4, 0.2, 0.5, 0.3, 0.4,
  0.2, 0.4, 0.1, 0.3, 0.5, 0.2, 0.4, 0.1, 0.3, 0.2,
  0.4, 0.1, 0.3, 0.2, 0.5, 0.3, 0.1, 0.4, 0.2, 0.3,
  0.1, 0.4, 0.2, 0.3, 0.5, 0.2, 0.1, 0.4, 0.3, 0.2,
  0.4, 0.3, 0.1, 0.5, 0.3, 0.2, 0.4, 0.3, 0.5, 0.2,
  0.4, 0.6, 0.3, 0.5, 0.2, 0.4, 0.6, 0.3, 0.5, 0.8,
  0.4, 0.7, 0.6, 1.0, 0.7, 0.5
];

const xTicks = [4, 6, 8, 10, 12, 14, 16, 18, 20];
const yTicks = [0, 2, 4, 6, 8];

const panels = [
  { canvas: 'c1', top: 39, bottom: 263,
    a3: [[feb2Time, feb2Deg3], [feb2TimeB, feb2Deg3B]],
    a10: [[feb2Time, feb2Deg10], [feb2TimeB, feb2Deg10B]],
    a25: [[feb2Time, feb2Deg25], [feb2TimeB, feb2Deg25B]] },
  { canvas: 'c2', top: 263, bottom: 490,
    a3: [[feb3Time, feb3Deg3], [feb3TimeB, feb3Deg3B]],
    a10: [[feb3Time, feb3Deg10], [feb3TimeB, feb3Deg10B]],
    a25: [[feb3Time, feb3Deg25], [feb3TimeB, feb3Deg25B]] },
  { canvas: 'c3', top: 490, bottom: 719,
    a3: [[feb5Time, feb5Deg3], [feb5TimeB, feb5Deg3B]],
    a10: [[feb5Time, feb5Deg10], [feb5TimeB, feb5Deg10B]],
    a25: [[feb5Time, feb5Deg25], [feb5TimeB, feb5Deg25B]] },
  { canvas: 'c4', top: 719, bottom: 947,
    a3: [[feb6Time, feb6Deg3], [feb6TimeB, feb6Deg3B]],
    a10: [[feb6Time, feb6Deg10], [feb6TimeB, feb6Deg10B]],
    a25: [[feb6Time, feb6Deg25], [feb6TimeB, feb6Deg25B]] }
];

const W = 1157, H = 998;
const tickFont = { family: "'Liberation Sans', Arial, sans-serif", weight: 'bold' };

function toPoints(scans) {
  const out = [];
  scans.forEach(([time, vals]) => {
    time.forEach((t, i) => {
      if (vals[i] !== undefined) out.push({ x: t, y: vals[i] });
    });
  });
  return out;
}

// black frame with inward tick marks on top, left and right
const framePlugin = {
  id: 'frame',
  afterDraw(chart) {
    const { ctx, chartArea: a } = chart;
    const x = chart.scales.x, y = chart.scales.y;
    ctx.save();
    ctx.strokeStyle = '#000';
    ctx.lineWidth = 3;
    ctx.strokeRect(a.left, a.top, a.right - a.left, a.bottom - a.top);
    ctx.lineWidth = 2.5;
    ctx.beginPath();
    for (let h = 4; h <= 20; h++) {
      const px = x.getPixelForValue(h);
      ctx.moveTo(px, a.top);
      ctx.lineTo(px, a.top + 11);
    }
    for (let v = -1; v <= 9; v++) {
      const py = y.getPixelForValue(v);
      ctx.moveTo(a.left, py);
      ctx.lineTo(a.left + 13, py);
      ctx.moveTo(a.right, py);
      ctx.lineTo(a.right - 13, py);
    }
    ctx.stroke();
    ctx.restore();
  }
};

// symbols of the angle key in the last panel
const keyPlugin = {
  id: 'angleKey',
  afterDraw(chart) {
    const ctx = chart.ctx;
    const off = chart.canvas.offsetTop;
    ctx.save();
    ctx.fillStyle = '#000';
    ctx.beginPath();
    ctx.arc(1003, 787 - off, 13.5, 0, Math.PI * 2);
    ctx.fill();
    ctx.fillStyle = '#ff0000';
    ctx.beginPath();
    ctx.moveTo(1002, 812 - off);
    ctx.lineTo(1013, 823 - off);
    ctx.lineTo(1002, 834 - off);
    ctx.lineTo(991, 823 - off);
    ctx.closePath();
    ctx.fill();
    ctx.fillStyle = '#0000ff';
    ctx.beginPath();
    ctx.moveTo(1002, 849 - off);
    ctx.lineTo(1013, 870 - off);
    ctx.lineTo(991, 870 - off);
    ctx.closePath();
    ctx.fill();
    ctx.restore();
  }
};

panels.forEach((p, i) => {
  const first = i === 0, last = i === panels.length - 1;
  const cTop = first ? 0 : p.top - 10;
  const cBottom = last ? H : p.bottom + 10;
  const cv = document.getElementById(p.canvas);
  cv.width = W;
  cv.height = cBottom - cTop;
  cv.style.top = cTop + 'px';
  cv.style.width = W + 'px';
  cv.style.height = (cBottom - cTop) + 'px';

  const showX = first || last;

  new Chart(cv, {
    type: 'scatter',
    data: {
      datasets: [
        { label: '25°', data: toPoints(p.a25), pointStyle: 'triangle', pointRadius: 5.5, backgroundColor: '#0000ff', borderWidth: 0 },
        { label: '10°', data: toPoints(p.a10), pointStyle: 'circle', pointRadius: 3.5, backgroundColor: '#ff0000', borderWidth: 0 },
        { label: '3°', data: toPoints(p.a3), pointStyle: 'rect', pointRadius: 4.1, backgroundColor: '#000000', borderWidth: 0 }
      ]
    },
    options: {
      responsive: false,
      animation: false,
      events: [],
      layout: { padding: { top: first ? 0 : 10, bottom: last ? 0 : 10, left: 0, right: 0 } },
      plugins: { legend: { display: false }, tooltip: { enabled: false } },
      scales: {
        x: {
          type: 'linear',
          position: first ? 'top' : 'bottom',
          min: 4, max: 20,
          afterFit: s => {
            s.height = first ? 39 : (last ? 51 : 0);
            s.paddingLeft = 0;
            s.paddingRight = 0;
          },
          ticks: {
            display: showX,
            stepSize: 1,
            autoSkip: false,
            maxRotation: 0,
            padding: first ? 7 : 13,
            color: '#000',
            font: { ...tickFont, size: 16 },
            callback: v => xTicks.includes(v) ? String(v) : ''
          },
          grid: { color: '#b9b9b9', lineWidth: 1, drawTicks: false },
          border: { display: false, dash: [2, 2] }
        },
        y: {
          type: 'linear',
          position: 'left',
          min: -1, max: 9,
          afterFit: s => {
            s.width = 122;
            s.paddingTop = 0;
            s.paddingBottom = 0;
          },
          ticks: {
            stepSize: 1,
            autoSkip: false,
            padding: 14,
            color: '#000',
            font: { ...tickFont, size: 15 },
            callback: v => yTicks.includes(v) ? String(v) : ''
          },
          grid: { color: '#b9b9b9', lineWidth: 1, drawTicks: false },
          border: { display: false, dash: [2, 2] }
        },
        y2: {
          type: 'linear',
          position: 'right',
          min: -1, max: 9,
          afterFit: s => {
            s.width = 27;
            s.paddingTop = 0;
            s.paddingBottom = 0;
          },
          ticks: {
            stepSize: 1,
            autoSkip: false,
            padding: 13,
            color: '#000',
            font: { ...tickFont, size: 15 },
            callback: v => yTicks.includes(v) ? String(v) : ''
          },
          grid: { display: false, drawTicks: false },
          border: { display: false }
        }
      }
    },
    plugins: last ? [framePlugin, keyPlugin] : [framePlugin]
  });
});
</script>
</body>
</html>
